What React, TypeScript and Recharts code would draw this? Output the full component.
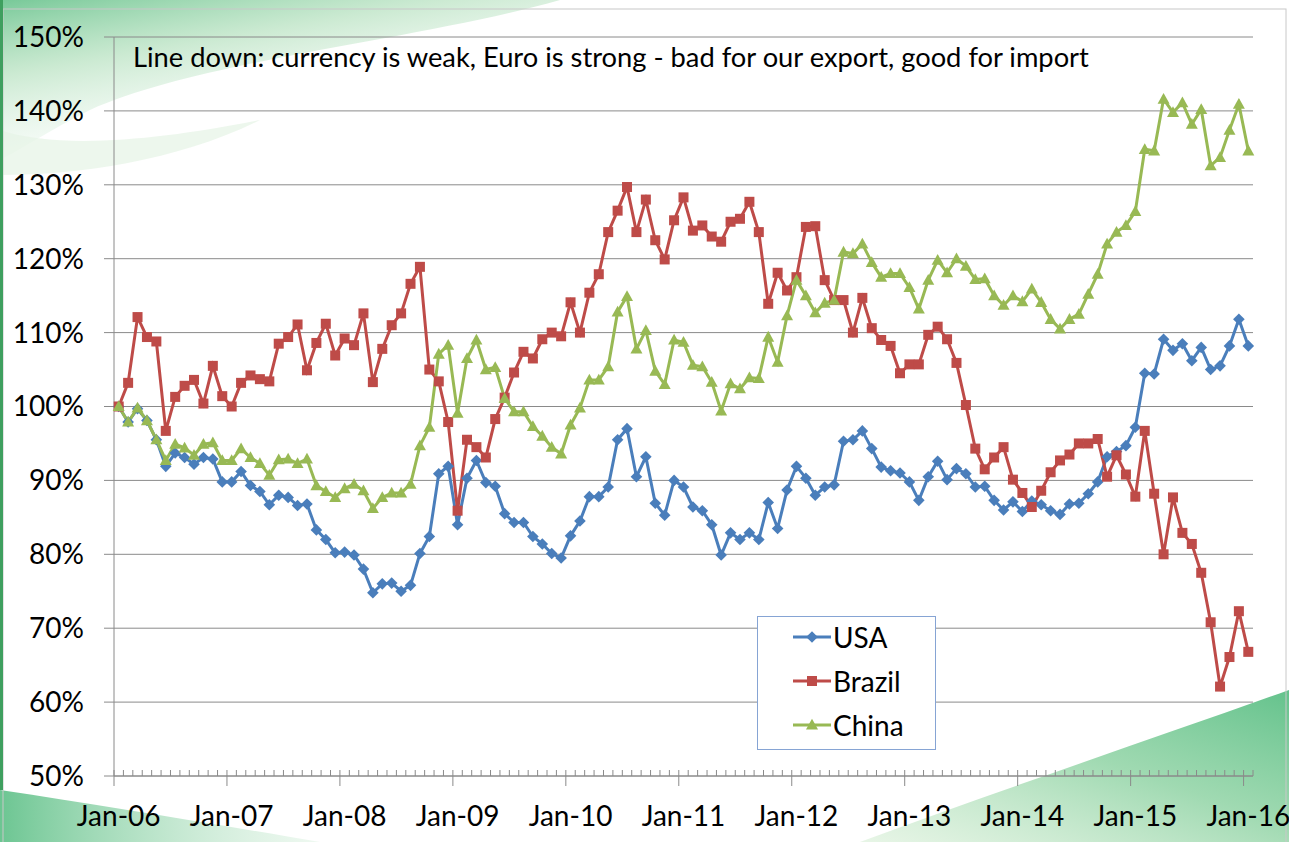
import React from "react";
import { LineChart, Line, XAxis, YAxis, CartesianGrid, Legend } from "recharts";

const MONTH_NAMES = ["Jan", "Feb", "Mar", "Apr", "May", "Jun", "Jul", "Aug", "Sep", "Oct", "Nov", "Dec"];
const YEARS = ["06", "07", "08", "09", "10", "11", "12", "13", "14", "15", "16"];
const MONTHS: string[] = YEARS.flatMap((y) => MONTH_NAMES.map((m) => `${m}-${y}`)).slice(0, 121);

// index vs. Jan-06 (=100%)
const USA = [
  100, 97.9, 99.7, 98.1, 95.5, 91.9, 93.7, 93.1, 92.2, 93.1, 92.9, 89.8,
  89.8, 91.2, 89.3, 88.5, 86.7, 88.0, 87.7, 86.6, 86.8, 83.3, 82.0, 80.2,
  80.3, 79.9, 78.0, 74.8, 76.0, 76.1, 75.0, 75.8, 80.1, 82.4, 90.9, 91.9,
  84.0, 90.3, 92.7, 89.7, 89.2, 85.5, 84.3, 84.3, 82.4, 81.4, 80.1, 79.5,
  82.5, 84.5, 87.8, 87.8, 89.1, 95.5, 97.0, 90.5, 93.2, 86.9, 85.3, 90.0,
  89.1, 86.4, 85.9, 84.0, 79.9, 82.9, 82.0, 82.9, 82.0, 87.0, 83.5, 88.7,
  91.9, 90.3, 88.0, 89.1, 89.4, 95.3, 95.5, 96.7, 94.3, 91.8, 91.3, 91.0,
  89.8, 87.3, 90.5, 92.6, 90.1, 91.6, 90.9, 89.1, 89.2, 87.3, 86.0, 87.1,
  85.8, 87.2, 86.7, 85.9, 85.4, 86.8, 86.9, 88.2, 89.8, 93.2, 93.9, 94.7,
  97.2, 104.5, 104.4, 109.1, 107.6, 108.5, 106.2, 108.0, 105.0, 105.5, 108.2, 111.8,
  108.2,
];
const BRAZIL = [
  100, 103.2, 112.1, 109.4, 108.8, 96.7, 101.3, 102.8, 103.6, 100.4, 105.5, 101.4,
  100.0, 103.2, 104.2, 103.7, 103.4, 108.5, 109.4, 111.1, 104.9, 108.6, 111.2, 106.9,
  109.2, 108.3, 112.6, 103.3, 107.8, 111.0, 112.6, 116.6, 118.9, 105.0, 103.4, 97.9,
  85.9, 95.5, 94.5, 93.1, 98.3, 101.2, 104.6, 107.4, 106.5, 109.1, 110.0, 109.5,
  114.1, 110.0, 115.4, 117.9, 123.6, 126.5, 129.7, 123.6, 128.0, 122.5, 119.9, 125.2,
  128.3, 123.8, 124.5, 123.0, 122.3, 125.0, 125.4, 127.7, 123.6, 113.9, 118.1, 115.7,
  117.5, 124.3, 124.4, 117.1, 114.4, 114.4, 110.0, 114.7, 110.6, 109.0, 108.2, 104.5,
  105.7, 105.7, 109.7, 110.8, 109.1, 105.9, 100.2, 94.3, 91.5, 93.1, 94.5, 90.1,
  88.3, 86.4, 88.6, 91.1, 92.7, 93.5, 95.0, 95.0, 95.6, 90.5, 93.4, 90.8,
  87.8, 96.7, 88.2, 80.0, 87.7, 82.9, 81.4, 77.5, 70.8, 62.1, 66.1, 72.3,
  66.8,
];
const CHINA = [
  100, 97.9, 99.8, 98.1, 95.5, 92.7, 94.9, 94.4, 93.4, 94.9, 95.1, 92.7,
  92.7, 94.3, 93.1, 92.3, 90.7, 92.8, 92.9, 92.3, 92.9, 89.3, 88.5, 87.7,
  88.9, 89.5, 88.6, 86.2, 87.7, 88.3, 88.3, 89.5, 94.7, 97.2, 107.1, 108.3,
  99.1, 106.5, 109.0, 105.0, 105.3, 101.1, 99.3, 99.3, 97.3, 96.0, 94.5, 93.6,
  97.5, 99.8, 103.6, 103.6, 105.4, 112.8, 114.9, 107.8, 110.3, 104.8, 103.0, 109.0,
  108.7, 105.6, 105.4, 103.3, 99.4, 103.1, 102.4, 103.9, 103.8, 109.4, 106.0, 112.3,
  117.1, 115.0, 112.7, 114.0, 114.4, 120.9, 120.7, 122.0, 119.5, 117.5, 118.0, 118.0,
  116.1, 113.2, 117.1, 119.8, 118.1, 120.0, 119.0, 117.2, 117.3, 115.0, 113.7, 115.0,
  114.2, 115.9, 114.1, 111.8, 110.5, 111.8, 112.5, 115.2, 117.9, 122.0, 123.6, 124.5,
  126.4, 134.8, 134.6, 141.6, 139.8, 141.1, 138.2, 140.2, 132.6, 133.7, 137.4, 140.9,
  134.6,
];
const Y_TICKS = [50, 60, 70, 80, 90, 100, 110, 120, 130, 140, 150];
const TITLE = "Line down: currency is weak, Euro is strong - bad for our export, good for import";

const data = MONTHS.map((m, i) => ({ month: m, usa: USA[i], brazil: BRAZIL[i], china: CHINA[i] }));

const W = 1289;
const H = 842;
const PLOT_LEFT = 114;
const PLOT_RIGHT = 1253;
const PLOT_TOP = 37;
const PLOT_BOTTOM = 776;
const HALF = (PLOT_RIGHT - PLOT_LEFT) / MONTHS.length / 2;
const FONT = "Lato, 'Open Sans', sans-serif";
const GRID = "#8a8a8a";
const BLUE = "#4a7ebb";
const RED = "#be4b48";
const GREEN = "#98b954";

const Diamond = ({ cx, cy, fill }: any) => (
  <path d={`M${cx},${cy - 5.8}L${cx + 5.8},${cy}L${cx},${cy + 5.8}L${cx - 5.8},${cy}Z`} fill={fill} />
);
const Square = ({ cx, cy, fill }: any) => <rect x={cx - 5} y={cy - 5} width={10} height={10} fill={fill} />;
const Triangle = ({ cx, cy, fill }: any) => (
  <path d={`M${cx},${cy - 6.2}L${cx + 6},${cy + 4.6}L${cx - 6},${cy + 4.6}Z`} fill={fill} />
);

function MonthTick(props: any) {
  const { x, index } = props;
  const edge = x - HALF;
  const major = index % 12 === 0;
  const last = index === MONTHS.length - 1;
  return (
    <g>
      <line x1={edge} x2={edge} y1={PLOT_BOTTOM - 6} y2={major ? PLOT_BOTTOM + 10 : PLOT_BOTTOM} stroke={GRID} />
      {last && <line x1={x + HALF} x2={x + HALF} y1={PLOT_BOTTOM - 6} y2={PLOT_BOTTOM} stroke={GRID} />}
      {major && (
        <text x={x} y={826} textAnchor="middle" fontSize={28} fontFamily={FONT} fill="#000">
          {MONTHS[index]}
        </text>
      )}
    </g>
  );
}

const LEGEND_ROWS = [
  { name: "USA", color: BLUE, Marker: Diamond },
  { name: "Brazil", color: RED, Marker: Square },
  { name: "China", color: GREEN, Marker: Triangle },
];

function LegendBox() {
  return (
    <div
      style={{
        width: 179,
        height: 134,
        boxSizing: "border-box",
        border: "1.5px solid #86a4d4",
        background: "#fff",
        fontFamily: FONT,
        fontSize: 28,
        color: "#000",
      }}
    >
      {LEGEND_ROWS.map((r, i) => (
        <div key={r.name} style={{ position: "absolute", left: 36, top: -1 + i * 44, height: 44, display: "flex", alignItems: "center" }}>
          <svg width={38} height={14} style={{ marginRight: 2 }}>
            <line x1={0} x2={38} y1={7} y2={7} stroke={r.color} strokeWidth={3} />
            <r.Marker cx={19} cy={7} fill={r.color} />
          </svg>
          <span>{r.name}</span>
        </div>
      ))}
    </div>
  );
}

export default function App() {
  return (
    <div style={{ position: "absolute", left: 0, top: 0, width: W, height: H, background: "#fff", overflow: "hidden" }}>
      <svg width={W} height={H} style={{ position: "absolute", left: 0, top: 0 }}>
        <defs>
          <linearGradient id="tl" x1="0" y1="0" x2="0.6" y2="1">
            <stop offset="0%" stopColor="#5fbf86" stopOpacity={0.85} />
            <stop offset="35%" stopColor="#a9dcb4" stopOpacity={0.6} />
            <stop offset="100%" stopColor="#ffffff" stopOpacity={0} />
          </linearGradient>
          <linearGradient id="br" x1="0" y1="1" x2="1" y2="0">
            <stop offset="0%" stopColor="#d8efd6" stopOpacity={0.6} />
            <stop offset="55%" stopColor="#8fd3a4" stopOpacity={0.85} />
            <stop offset="100%" stopColor="#5cbf86" stopOpacity={0.95} />
          </linearGradient>
          <linearGradient id="bl" x1="0" y1="0" x2="1" y2="0">
            <stop offset="0%" stopColor="#5cbf86" stopOpacity={0.9} />
            <stop offset="100%" stopColor="#c9ead0" stopOpacity={0.3} />
          </linearGradient>
        </defs>
        <path d="M0,0 L560,0 C420,40 200,60 90,110 C50,130 20,150 0,160 Z" fill="url(#tl)" />
        <path d="M0,130 C60,150 160,140 260,120 C180,160 80,175 0,175 Z" fill="#e6f4e6" opacity={0.7} />
        <path d="M860,842 C1000,790 1150,740 1289,690 L1289,842 Z" fill="url(#br)" />
        <path d="M0,790 C100,805 220,825 320,842 L0,842 Z" fill="url(#bl)" />
        <rect x={3} y={9} width={1283} height={840} fill="none" stroke="#c8c8c8" strokeWidth={1} />
        <rect x={0} y={0} width={3} height={790} fill="#3f9f5f" />
      </svg>
      <div style={{ position: "absolute", left: 0, top: 0 }}>
        <LineChart
          width={W}
          height={H}
          data={data}
          margin={{ top: PLOT_TOP, right: W - PLOT_RIGHT, bottom: H - PLOT_BOTTOM - 60, left: 0 }}
        >
          <CartesianGrid vertical={false} stroke={GRID} />
          <XAxis
            dataKey="month"
            interval={0}
            height={60}
            padding={{ left: HALF, right: HALF }}
            axisLine={{ stroke: GRID }}
            tickLine={false}
            tick={<MonthTick />}
          />
          <YAxis
            domain={[50, 150]}
            ticks={Y_TICKS}
            width={PLOT_LEFT}
            tickFormatter={(v) => `${v}%`}
            tickSize={10}
            tickMargin={20}
            axisLine={{ stroke: GRID }}
            tickLine={{ stroke: GRID }}
            tick={{ fill: "#000", fontSize: 28, fontFamily: FONT }}
          />
          <Legend
            layout="vertical"
            align="center"
            verticalAlign="middle"
            content={() => <LegendBox />}
            wrapperStyle={{ left: 757, top: 616, width: 179, height: 134 }}
          />
          <Line
            dataKey="usa"
            name="USA"
            stroke={BLUE}
            strokeWidth={3}
            isAnimationActive={false}
            dot={(p: any) => <Diamond key={`u${p.index}`} cx={p.cx} cy={p.cy} fill={BLUE} />}
          />
          <Line
            dataKey="brazil"
            name="Brazil"
            stroke={RED}
            strokeWidth={3}
            isAnimationActive={false}
            dot={(p: any) => <Square key={`b${p.index}`} cx={p.cx} cy={p.cy} fill={RED} />}
          />
          <Line
            dataKey="china"
            name="China"
            stroke={GREEN}
            strokeWidth={3}
            isAnimationActive={false}
            dot={(p: any) => <Triangle key={`c${p.index}`} cx={p.cx} cy={p.cy} fill={GREEN} />}
          />
        </LineChart>
      </div>
      <div
        style={{
          position: "absolute",
          left: 133,
          top: 40,
          fontFamily: FONT,
          fontSize: 27.3,
          lineHeight: "33px",
          color: "#000",
          whiteSpace: "nowrap",
        }}
      >
        {TITLE}
      </div>
    </div>
  );
}
